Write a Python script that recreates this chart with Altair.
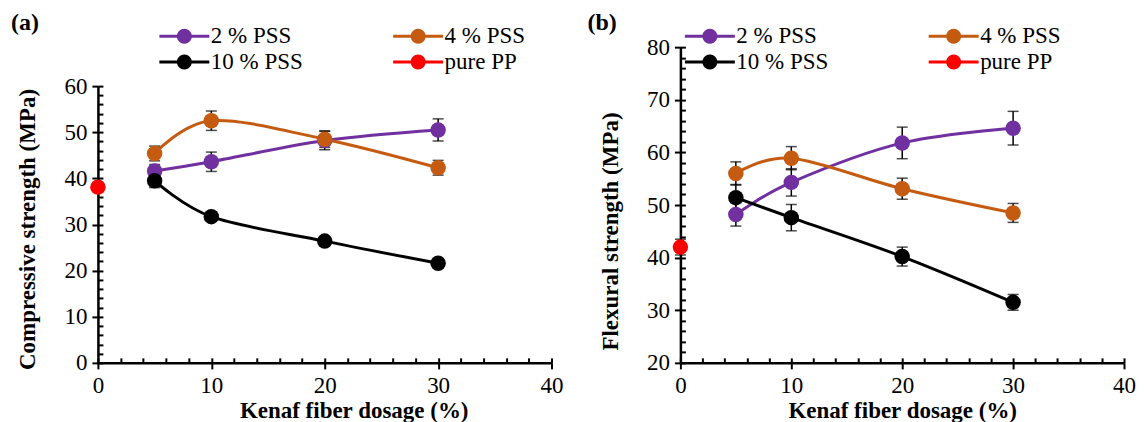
import math
import altair as alt
import pandas as pd

FONT = "Liberation Serif"

dosage = [5, 10, 20, 30]
series_names = ["2 % PSS", "4 % PSS", "10 % PSS", "pure PP"]
colors = ["#7030A0", "#C55A11", "#000000", "#FF0000"]

# (a) Compressive strength (MPa)
comp_pss2 = [41.6, 43.6, 48.2, 50.5]
comp_pss2_err = [1.4, 2.1, 2.0, 2.4]
comp_pss4 = [45.4, 52.5, 48.5, 42.3]
comp_pss4_err = [1.6, 2.1, 1.8, 1.6]
comp_pss10 = [39.5, 31.7, 26.4, 21.6]
comp_pss10_err = [1.5, 1.0, 0.8, 0.8]
comp_pure = 38.1
comp_pure_err = 1.0

# (b) Flexural strength (MPa)
flex_pss2 = [48.2, 54.3, 61.8, 64.6]
flex_pss2_err = [2.2, 2.6, 3.0, 3.2]
flex_pss4 = [56.0, 58.9, 53.1, 48.5]
flex_pss4_err = [2.2, 2.2, 2.0, 1.8]
flex_pss10 = [51.4, 47.6, 40.2, 31.5]
flex_pss10_err = [2.5, 2.5, 1.8, 1.5]
flex_pure = 42.0
flex_pure_err = 1.5


def build_df(vals_list, errs_list, pure, pure_err):
    rows = []
    for name, vals, errs in zip(series_names[:3], vals_list, errs_list):
        for xv, v, e in zip(dosage, vals, errs):
            rows.append({"x": xv, "y": v, "lo": v - e, "hi": v + e, "series": name})
    rows.append({"x": 0, "y": pure, "lo": pure - pure_err, "hi": pure + pure_err, "series": "pure PP"})
    return pd.DataFrame(rows)


# legend glyph (unit = 10 px at symbolSize 400): line 50 px long through a filled circle
_r = 0.6
_pts = ["%.3f,%.3f" % (1.5 + _r * math.cos(2 * math.pi * k / 24), _r * math.sin(2 * math.pi * k / 24))
        for k in range(24)]
SYM = "M-1,0L4,0M" + "L".join(_pts) + "Z"


def panel(df, ydom, yrange, ytitle, label, w, h, legx, legy, colpad, ytitle_y, xtitle_x,
          title_dx, title_dy):
    xs = alt.Scale(domain=[0, 40], nice=False, zero=False)
    ys = alt.Scale(domain=ydom, range=yrange, nice=False, zero=False)
    cs = alt.Scale(domain=series_names, range=colors)
    ymajor = list(range(ydom[0], ydom[1] + 1, 10))
    yminor = list(range(ydom[0], ydom[1] + 1, 2))
    xmajor = [0, 10, 20, 30, 40]
    xminor = list(range(0, 41, 2))

    common = dict(grid=False, domainColor="black", domainWidth=2.5, tickColor="black",
                  tickWidth=2, tickSize=6, labelFont=FONT, labelFontSize=23,
                  labelColor="black", titleFont=FONT, titleFontSize=23,
                  titleFontWeight="bold", titleColor="black", labelFlush=False,
                  labelOverlap=False, titleAlign="center", titleBaseline="middle")
    major_x = alt.Axis(values=xmajor, orient="bottom", title="Kenaf fiber dosage (%)",
                       labelPadding=6, titleX=xtitle_x, titleY=48, **common)
    major_y = alt.Axis(values=ymajor, orient="left", title=ytitle, labelPadding=5,
                       titleX=-70, titleY=ytitle_y, titleAngle=-90, **common)
    minor_x = alt.Axis(values=xminor, orient="bottom", offset=-5, tickSize=5, tickWidth=2,
                       tickColor="black", domain=False, labels=False, title=None, grid=False)
    minor_y = alt.Axis(values=yminor, orient="left", offset=-5, tickSize=5, tickWidth=2,
                       tickColor="black", domain=False, labels=False, title=None, grid=False)

    base = alt.Chart(df)
    rules = base.mark_rule(color="black", strokeWidth=1.5).encode(
        x=alt.X("x:Q", scale=xs, axis=minor_x),
        y=alt.Y("lo:Q", scale=ys, axis=minor_y),
        y2="hi:Q",
    )
    caps_lo = base.mark_tick(color="black", orient="horizontal", size=11, thickness=1.5).encode(
        x=alt.X("x:Q", scale=xs, axis=None),
        y=alt.Y("lo:Q", scale=ys, axis=None),
    )
    caps_hi = base.mark_tick(color="black", orient="horizontal", size=11, thickness=1.5).encode(
        x=alt.X("x:Q", scale=xs, axis=None),
        y=alt.Y("hi:Q", scale=ys, axis=None),
    )
    leg = alt.Legend(title=None, orient="none", legendX=legx, legendY=legy, columns=2,
                     direction="horizontal", symbolType=SYM, symbolSize=400,
                     symbolStrokeWidth=3, labelFont=FONT, labelFontSize=23,
                     labelColor="black", labelOffset=30, columnPadding=colpad,
                     rowPadding=1, padding=0)
    line = base.transform_filter(alt.datum.series != "pure PP").mark_line(
        interpolate="cardinal", strokeWidth=3
    ).encode(
        x=alt.X("x:Q", scale=xs, axis=None),
        y=alt.Y("y:Q", scale=ys, axis=None),
        color=alt.Color("series:N", scale=cs, legend=leg),
    )
    pts = base.mark_point(filled=True, size=240, opacity=1).encode(
        x=alt.X("x:Q", scale=xs, axis=major_x),
        y=alt.Y("y:Q", scale=ys, axis=major_y),
        color=alt.Color("series:N", scale=cs, legend=None),
    )
    return alt.layer(line, rules, caps_lo, caps_hi, pts).resolve_axis(
        x="independent", y="independent"
    ).properties(
        width=w, height=h,
        title=alt.TitleParams(text=label, anchor="start", frame="bounds", font=FONT,
                              fontSize=24, fontWeight="bold", color="black",
                              offset=0, dx=title_dx, dy=title_dy),
    )


df_a = build_df([comp_pss2, comp_pss4, comp_pss10], [comp_pss2_err, comp_pss4_err, comp_pss10_err],
                comp_pure, comp_pure_err)
df_b = build_df([flex_pss2, flex_pss4, flex_pss10], [flex_pss2_err, flex_pss4_err, flex_pss10_err],
                flex_pure, flex_pure_err)

H = 316
left = panel(df_a, [0, 60], [H, 39], "Compressive strength (MPa)", "(a)", 454, H,
             60, -22.7, 83, 182, 256, -6, 10.5)
right = panel(df_b, [20, 80], [H, 0], "Flexural strength (MPa)", "(b)", 444, H,
              3, -22.7, 93, 184, 222, -12, 10.5)

chart = alt.hconcat(left, right, spacing=23).resolve_scale(
    x="independent", y="independent", color="independent"
).resolve_legend(
    color="independent"
).configure_view(stroke="transparent").properties(
    padding={"left": 2, "top": 2, "right": 0, "bottom": 0}
)

chart.save("out.html", embed_options={"renderer": "svg", "actions": False})
